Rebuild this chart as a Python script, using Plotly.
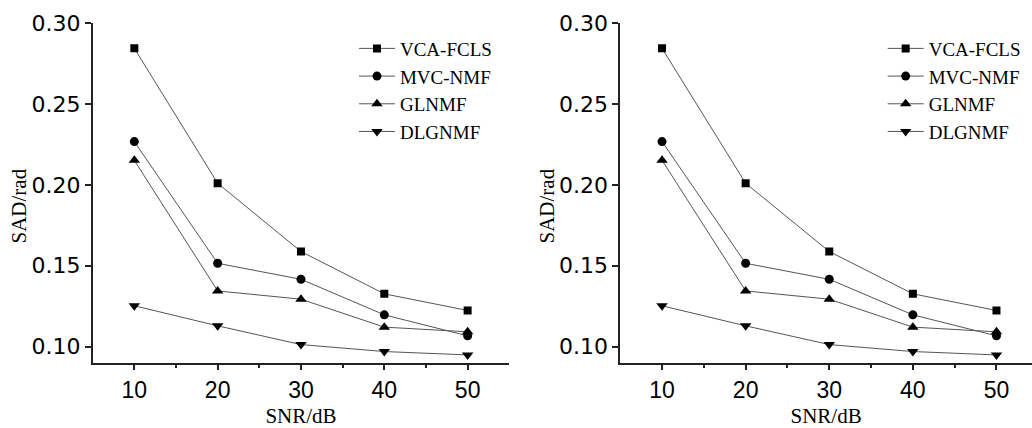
import plotly.graph_objects as go

snr = [10, 20, 30, 40, 50]
vca_fcls = [0.2845, 0.2010, 0.1588, 0.1326, 0.1223]
mvc_nmf = [0.2268, 0.1515, 0.1416, 0.1196, 0.1066]
glnmf = [0.2152, 0.1344, 0.1293, 0.1120, 0.1091]
dlgnmf = [0.1252, 0.1128, 0.1012, 0.0969, 0.0948]

series = [
    ("VCA-FCLS", vca_fcls, "square", 8),
    ("MVC-NMF", mvc_nmf, "circle", 9),
    ("GLNMF", glnmf, "triangle-up", 10),
    ("DLGNMF", dlgnmf, "triangle-down", 10),
]

y_ticks = [0.10, 0.15, 0.20, 0.25, 0.30]
x_ticks = [10, 20, 30, 40, 50]

fig = go.Figure()
for idx, (xa, ya, leg) in enumerate([("x", "y", "legend"), ("x2", "y2", "legend2")]):
    for name, vals, sym, sz in series:
        fig.add_trace(go.Scatter(
            x=snr, y=vals, name=name, mode="lines+markers",
            line=dict(color="#555555", width=1),
            marker=dict(symbol=sym, size=sz, color="black"),
            xaxis=xa, yaxis=ya, legend=leg,
        ))

xtickfont = dict(family="Liberation Sans, Arial", size=23, color="black")
ytickfont = dict(family="DejaVu Sans, Arial", size=22, color="black")
titlefont = dict(family="Liberation Serif, Times New Roman", size=21, color="black")

def xaxis(domain, rng):
    return dict(domain=domain, range=rng, tickvals=x_ticks, ticks="outside",
                ticklen=6, tickwidth=1.5, tickcolor="#222", showline=True,
                linecolor="#222", linewidth=1.5, showgrid=False, zeroline=False,
                automargin=False,
                tickfont=xtickfont, title=dict(text="SNR/dB", font=titlefont, standoff=14),
                minor=dict(tickvals=[15, 25, 35, 45], ticks="outside", ticklen=4,
                           tickwidth=1.5, tickcolor="#222"))

def yaxis(domain, anchor):
    return dict(domain=domain, range=[0.09, 0.30], tickvals=y_ticks,
                tickformat=".2f", ticks="outside", ticklen=6, tickwidth=1.5,
                tickcolor="#222", showline=True, linecolor="#222", linewidth=1.5,
                showgrid=False, zeroline=False, tickfont=ytickfont, anchor=anchor,
                automargin=False)

ydom = [0.1526, 0.9456]
legfont = dict(family="Liberation Serif, Times New Roman", size=19, color="black")

ytitles = [
    dict(text="SAD/rad", x=19 / 1032, y=1 - 206.5 / 428),
    dict(text="SAD/rad", x=(516 + 31) / 1032, y=1 - 206.5 / 428),
]

fig.update_layout(
    width=1032, height=428,
    margin=dict(l=0, r=0, t=0, b=0),
    paper_bgcolor="white", plot_bgcolor="white",
    xaxis=xaxis([0.0898, 0.4935], [5, 55]),
    yaxis=yaxis(ydom, "x"),
    xaxis2=xaxis([0.601, 1.0], [5, 54.25]) | dict(anchor="y2"),
    yaxis2=yaxis(ydom, "x2"),
    legend=dict(x=0.343, y=0.931, xanchor="left", yanchor="top", font=legfont,
                bgcolor="rgba(0,0,0,0)", tracegroupgap=0, itemwidth=36),
    legend2=dict(x=0.8553, y=0.931, xanchor="left", yanchor="top", font=legfont,
                 bgcolor="rgba(0,0,0,0)", tracegroupgap=0, itemwidth=36),
    annotations=[
        dict(text=t["text"], x=t["x"], y=t["y"], xref="paper", yref="paper",
             xanchor="center", yanchor="middle", textangle=-90, showarrow=False,
             font=titlefont)
        for t in ytitles
    ],
)

fig.write_html("out.html")
